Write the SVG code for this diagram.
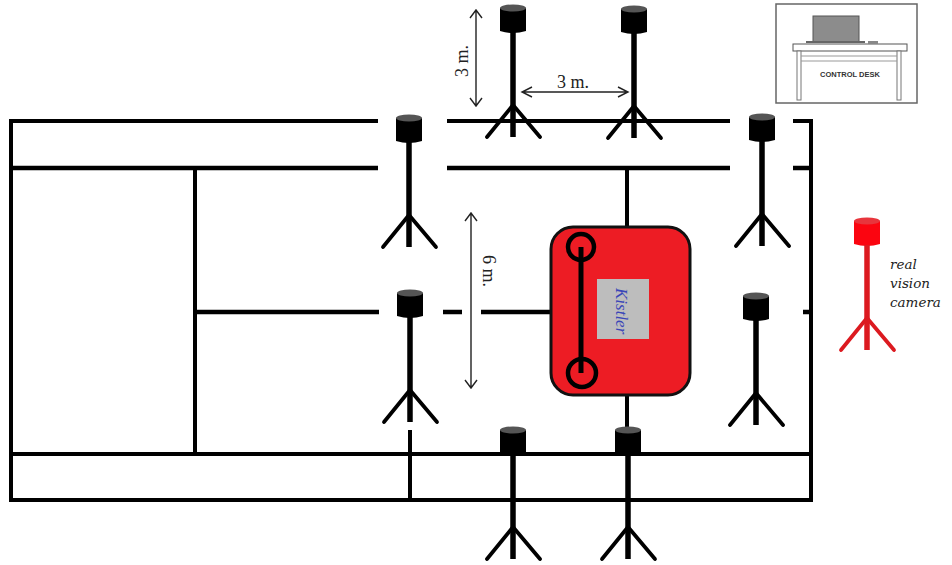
<svg xmlns="http://www.w3.org/2000/svg" width="952" height="565" viewBox="0 0 952 565">
<style>
.court{stroke:#000;stroke-width:4.5;fill:none}
.court2{stroke:#000;stroke-width:4;fill:none}
.dim{stroke:#222;stroke-width:1.4;fill:none}
.dimtxt{font-family:"Liberation Serif",serif;font-size:18px;fill:#222}
.vc{font-family:"DejaVu Serif",serif;font-style:italic;font-size:13.5px;fill:#222}
.cam-black{color:#000;--lid:#555}
.cam-red{color:#dc1a20;--lid:#e8353c;--head:#fb0510}
.head{fill:var(--head,currentColor)}
.lid{fill:var(--lid)}
.pole{stroke:currentColor;stroke-width:5.5;fill:none}
.leg{stroke:currentColor;stroke-width:3.8;stroke-linecap:round;fill:none}
</style>
<defs>
<g id="cam">
<path class="head" d="M-13 4V27Q0 31 13 27V4Z"/>
<ellipse class="lid" cx="0" cy="4" rx="13" ry="3.5"/>
<path class="pole" d="M0 28V133"/>
<path class="leg" d="M0 101L-26 133M0 101L27 133"/>
</g>
</defs>
<rect width="952" height="565" fill="#fff"/>
<g id="connectors">
<path class="court2" d="M378 121H11V500H811V121H793M730 121H447M11 454H811M195 168V454M627 168V228M627 395V427M410 430V500"/>
<path class="court" d="M378 168H11M447 168H730M793 168H811M195 312H379M443 312H462M481 312H551M803 312H811"/>
<path class="dim" d="M476 10V106M470 18L476 10L482 18M470 98L476 106L482 98M522 92H628M532 87L522 92L532 97M618 87L628 92L618 97M471 213V388M465 221L471 213L477 221M465 380L471 388L477 380"/>
</g>
<g id="control-desk">
<rect x="776" y="4" width="141" height="99" fill="#fff" stroke="#666" stroke-width="1.5"/>
<rect x="813" y="16" width="46" height="26" fill="#8c8c8c" stroke="#555"/>
<rect x="793" y="44" width="114" height="7" fill="#fff" stroke="#555"/>
<path d="M806 42H865" stroke="#666" stroke-width="2"/>
<rect x="868" y="41" width="10" height="3" fill="#888"/>
<rect x="797" y="51" width="4" height="49" fill="#fff" stroke="#777"/>
<rect x="897" y="51" width="4" height="49" fill="#fff" stroke="#777"/>
<path d="M801 56H897M801 61H897" stroke="#999"/>
<text x="850" y="77" font-family="Liberation Sans,sans-serif" font-size="7.5" font-weight="bold" fill="#333" text-anchor="middle">CONTROL DESK</text>
</g>
<g id="platform">
<rect x="551" y="227" width="139" height="168" rx="22" fill="#ed1c24" stroke="#111" stroke-width="3"/>
<rect x="597" y="279" width="52" height="60" fill="#bdbdbd"/>
<text transform="translate(616 288) rotate(90)" font-family="Liberation Serif,serif" font-style="italic" font-size="17" fill="#3a46b8">Kistler</text>
<path d="M581 247V373" stroke="#000" stroke-width="5" fill="none"/>
<circle cx="581" cy="247" r="13" fill="none" stroke="#000" stroke-width="4.5"/>
<circle cx="582" cy="373" r="14" fill="none" stroke="#000" stroke-width="4.5"/>
</g>
<g id="camera-1" class="cam-black"><use href="#cam" x="513" y="4"/></g>
<g id="camera-2" class="cam-black"><use href="#cam" x="634" y="5"/></g>
<g id="camera-3" class="cam-black"><use href="#cam" x="409" y="114"/></g>
<g id="camera-4" class="cam-black"><use href="#cam" x="762" y="113"/></g>
<g id="camera-5" class="cam-black"><use href="#cam" x="410" y="289"/></g>
<g id="camera-6" class="cam-black"><use href="#cam" x="756" y="292"/></g>
<g id="camera-7" class="cam-black"><use href="#cam" x="513" y="426"/></g>
<g id="camera-8" class="cam-black"><use href="#cam" x="628" y="426"/></g>
<g id="camera-red" class="cam-red"><use href="#cam" x="867" y="217"/></g>
<g id="labels">
<text class="dimtxt" transform="translate(468 77) rotate(-90)">3 m.</text>
<text class="dimtxt" x="557" y="88">3 m.</text>
<text class="dimtxt" transform="translate(483 255) rotate(90)">6 m.</text>
<text class="vc" x="890" y="269">real</text>
<text class="vc" x="890" y="288">vision</text>
<text class="vc" x="890" y="307">camera</text>
</g>
</svg>
